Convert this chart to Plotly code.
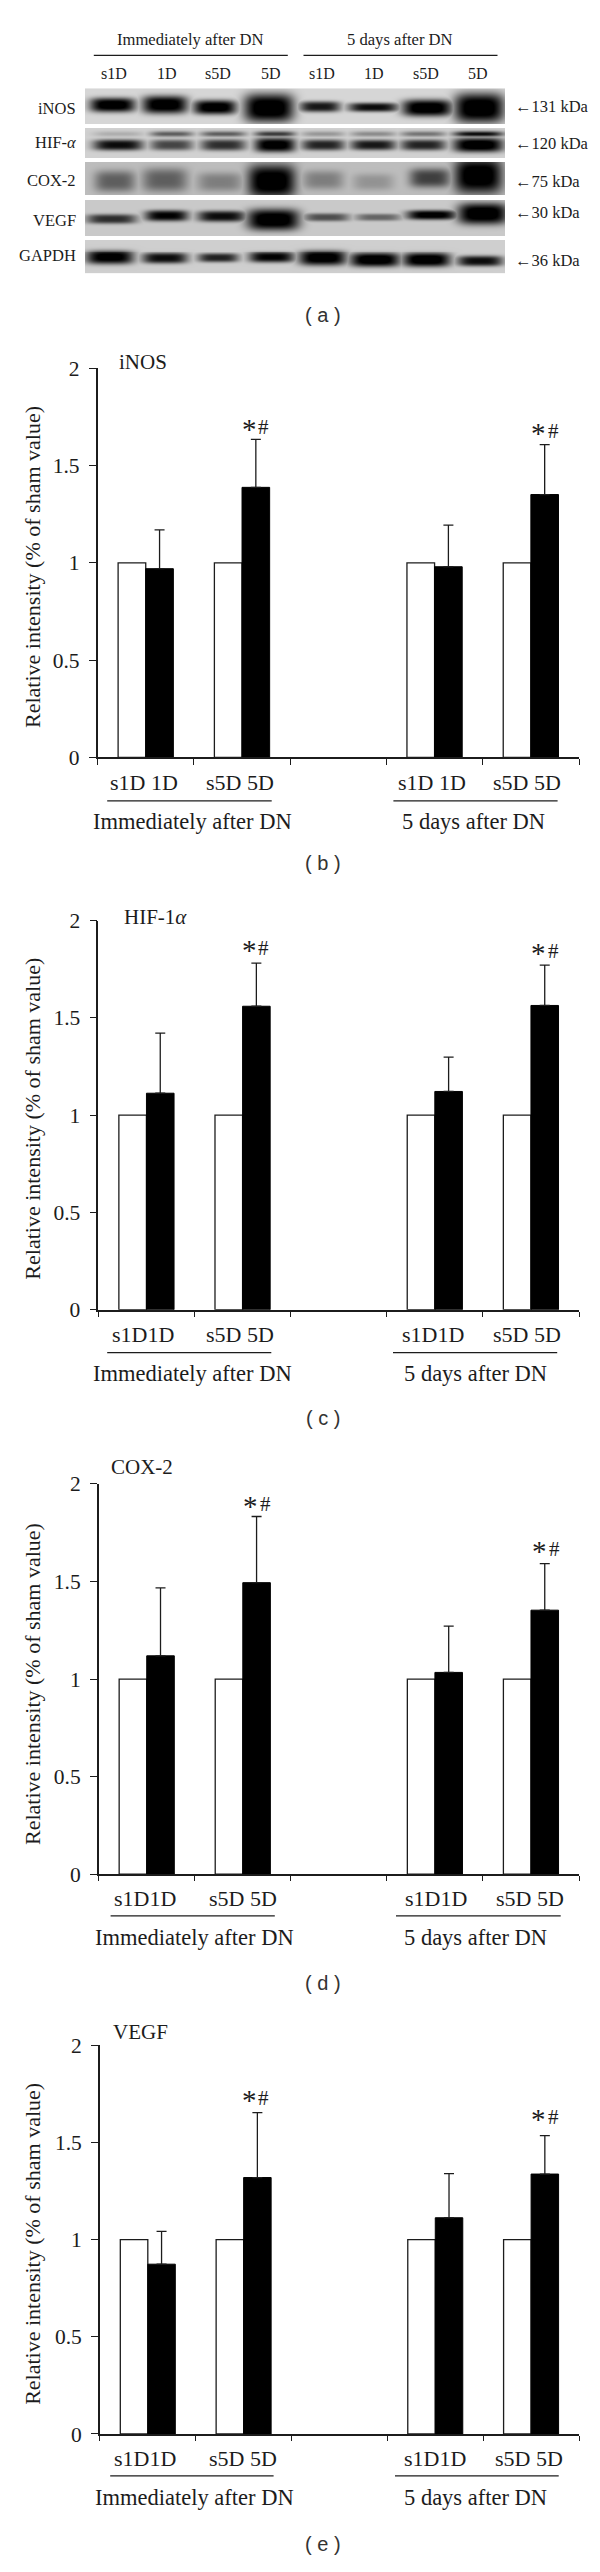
import numpy as np
import plotly.graph_objects as go

W, H = 600, 2572
SERIF = "Liberation Serif"
SANS = "Liberation Sans"
INK = "#1c1c1c"

# ---------- bar data ----------
groups = [0.5, 1.5, 3.5, 4.5]
tick_labels = ["0", "0.5", "1", "1.5", "2"]
tick_values = [0, 0.5, 1, 1.5, 2]
sham = [1, 1, 1, 1]

inos_mean = [0.97, 1.388, 0.98, 1.351]
inos_top = [1.169, 1.635, 1.194, 1.607]
hif_mean = [1.113, 1.56, 1.122, 1.564]
hif_top = [1.422, 1.782, 1.298, 1.771]
cox_mean = [1.119, 1.494, 1.034, 1.353]
cox_top = [1.467, 1.833, 1.271, 1.592]
vegf_mean = [0.874, 1.32, 1.113, 1.338]
vegf_top = [1.043, 1.654, 1.34, 1.536]

# ---------- blot band intensities (0 = none, 1 = saturated) ----------
blot_names = ["iNOS", "HIF-<i>α</i>", "COX-2", "VEGF", "GAPDH"]
blot_sizes = ["←131 kDa", "←120 kDa", "←75 kDa", "←30 kDa", "←36 kDa"]
lanes = ["s1D", "1D", "s5D", "5D", "s1D", "1D", "s5D", "5D"]
inos_band = [.98, .98, .98, 1, .8, .85, 1, 1]
hif_band = [.85, .6, .7, .97, .75, .8, .75, 1]
hif_upper = [.15, .5, .5, .65, .25, .3, .4, .85]
cox_band = [.45, .45, .3, 1, .3, .2, .6, 1]
vegf_band = [.7, .9, .85, 1, .55, .45, .95, 1]
gapdh_band = [.95, .85, .75, .9, .98, 1, 1, .85]

# ---------- blot geometry ----------
rows = [
    dict(y0=78, y1=114, bg=.84, d=inos_band,
         cx=[112.7, 165, 215, 269, 320, 373.3, 427.3, 479.3],
         cy=[95, 94.7, 97.3, 98, 96.7, 97.3, 98, 98],
         hw=[20, 20, 19, 22, 18, 22, 22, 22],
         hh=[6, 7.5, 6, 12, 4.5, 3.8, 7, 12.5]),
    dict(y0=118, y1=148, bg=.82, d=hif_band,
         cx=[118.3, 171.7, 223.3, 275, 323.3, 373.3, 423.3, 478.3],
         cy=[135] * 8,
         hw=[22, 19, 20, 18, 19, 20, 20, 22],
         hh=[4.6, 4.6, 4.8, 6, 4.6, 4.4, 4.6, 6],
         up=hif_upper),
    dict(y0=152.7, y1=186, bg=.74, d=cox_band,
         cx=[115, 165, 220, 271.7, 323.3, 373.3, 430, 478.3],
         cy=[172.3, 171, 173, 172.3, 171, 173, 169, 166.7],
         hw=[18, 20, 20, 21, 18, 18, 18, 21],
         hh=[9, 10, 8, 14, 8, 7, 8, 15]),
    dict(y0=190.7, y1=227, bg=.79, d=vegf_band,
         cx=[111.7, 166.7, 221.7, 273.3, 326.7, 378.3, 431.7, 482.7],
         cy=[210, 206.7, 207.3, 210.7, 208.3, 208.3, 206, 204.7],
         hw=[22, 19, 21, 23, 20, 20, 22, 22],
         hh=[4, 4.6, 4.6, 9, 3.4, 3, 4, 9]),
    dict(y0=231, y1=265, bg=.81, d=gapdh_band,
         cx=[110, 165, 218.3, 271.7, 322.7, 375, 426.7, 480],
         cy=[249, 250, 249.7, 249, 249.7, 251.7, 251.7, 253],
         hw=[21, 20, 18, 20, 21, 22, 21, 20],
         hh=[6, 4.6, 3.8, 4.6, 6.5, 6, 6, 4.4]),
]
BX0, BX1, BY0, BY1 = 85, 505, 78, 265
xs = np.arange(BX0, BX1)
ys = np.arange(BY0, BY1)
Xg, Yg = np.meshgrid(xs + .5, ys + .5)
z = np.ones_like(Xg)
for r in rows:
    mask = (Yg >= r["y0"]) & (Yg < r["y1"])
    dark = np.zeros_like(Xg)
    for i in range(8):
        u = (Xg - r["cx"][i]) / r["hw"][i]
        v = (Yg - r["cy"][i]) / r["hh"][i]
        dark = np.maximum(dark, r["d"][i] * np.exp(-.6 * (u**4 + np.abs(v)**3)))
        if "up" in r:
            v2 = (Yg - 124) / 2.2
            dark = np.maximum(dark, r["up"][i] * np.exp(-.6 * (u**4 + v2**2)))
    z[mask] = (r["bg"] * (1 - np.clip(dark * 1.12, 0, 1)))[mask]


def fx(p):
    return p / W


def fy(p):
    return 1 - p / H


fig = go.Figure()
annotations = []
shapes = []


def text(x, y, s, size=21.5, font=SERIF, anchor="center", angle=0, color=INK):
    annotations.append(dict(
        x=fx(x), y=fy(y), xref="paper", yref="paper", text=s, showarrow=False,
        xanchor=anchor, yanchor="middle", textangle=angle,
        font=dict(family=font, size=size, color=color)))


def hline(x0, x1, y, width=1.3):
    shapes.append(dict(type="line", xref="paper", yref="paper",
                       x0=fx(x0), x1=fx(x1), y0=fy(y), y1=fy(y),
                       line=dict(color=INK, width=width)))


# ---------- panel a ----------
fig.add_trace(go.Heatmap(
    z=z, x0=BX0 + .5, dx=1, y0=BY0 + .5, dy=1, xaxis="x", yaxis="y",
    zmin=0, zmax=1, colorscale=[[0, "#000000"], [1, "#ffffff"]],
    showscale=False, hoverinfo="skip"))
layout_axes = dict(
    xaxis=dict(domain=[fx(BX0), fx(BX1)], range=[BX0, BX1], visible=False, anchor="y"),
    yaxis=dict(domain=[fy(BY1), fy(BY0)], range=[BY1, BY0], visible=False, anchor="x"),
)
text(190.6, 29, "Immediately after DN", 16.6)
text(400.3, 29, "5 days after DN", 16.6)
hline(93.8, 287.8, 44.7)
hline(303.5, 497.5, 44.7)
for lx, lab in zip([114, 166.5, 218, 270.6, 322.2, 374.3, 426, 478.4], lanes):
    text(lx, 62.7, lab, 16)
for ly, name in zip([98, 132.7, 170.7, 211.7, 247.3], blot_names):
    text(78, ly, name, 16.5, anchor="right")
for ly, size in zip([96.7, 134, 172, 203, 252], blot_sizes):
    text(512.5, ly, size, 16.5, anchor="left")
text(322.6, 306.7, "( a )", 20, SANS, color="#333333")

# ---------- bar panels ----------
panels = [
    dict(title="iNOS", mean=inos_mean, top=inos_top, y2=360.6, y0=753.5, left=97.6,
         tx=143, ty=354.4, letter="( b )", ly=860, ytitle=561.7,
         star=[(256.5, 419.9), (546.2, 424.3)], lab_y=778.7, line_y=797.3, name_y=818.3,
         labs=[(143.5, "s1D 1D"), (240.3, "s5D 5D"), (431.7, "s1D 1D"), (527, "s5D 5D")],
         lines=[(107.2, 271.7), (393.4, 557.6)], names=[192, 473.4]),
    dict(title="HIF-1<i>α</i>", mean=hif_mean, top=hif_top, y2=918.2, y0=1311, left=98.4,
         tx=155.6, ty=914.3, letter="( c )", ly=1420, ytitle=1118.6,
         star=[(256.5, 945.7), (546.2, 949.3)], lab_y=1335.7, line_y=1354.3, name_y=1375.4,
         labs=[(143.1, "s1D1D"), (240.3, "s5D 5D"), (432.8, "s1D1D"), (527.2, "s5D 5D")],
         lines=[(107.2, 271.3), (393, 557.2)], names=[192, 475.3]),
    dict(title="COX-2", mean=cox_mean, top=cox_top, y2=1486.8, y0=1880.7, left=98.7,
         tx=141.8, ty=1470, letter="( d )", ly=1991, ytitle=1689.3,
         star=[(258, 1507.5), (547, 1552.9)], lab_y=1905, line_y=1922.9, name_y=1944.6,
         labs=[(145.4, "s1D1D"), (243.4, "s5D 5D"), (435.9, "s1D1D"), (529.7, "s5D 5D")],
         lines=[(110.6, 274.8), (396, 560.7)], names=[194.8, 475.7]),
    dict(title="VEGF", mean=vegf_mean, top=vegf_top, y2=2053.6, y0=2445.8, left=99.9,
         tx=140, ty=2039.6, letter="( e )", ly=2556.5, ytitle=2254.4,
         star=[(256.7, 2106.5), (546, 2126)], lab_y=2470.7, line_y=2488, name_y=2509.6,
         labs=[(145, "s1D1D"), (243, "s5D 5D"), (434.8, "s1D1D"), (528.5, "s5D 5D")],
         lines=[(110.2, 273.6), (395, 558.7)], names=[194.4, 475]),
]
RIGHT = 579
BW = 0.287
for i, p in enumerate(panels):
    n = str(i + 2)
    xa, ya = "x" + n, "y" + n
    fig.add_trace(go.Bar(
        x=groups, y=sham, width=BW, offset=-BW, xaxis=xa, yaxis=ya,
        marker=dict(color="white", line=dict(color=INK, width=1.3)), showlegend=False))
    fig.add_trace(go.Bar(
        x=groups, y=p["mean"], width=BW, offset=0, xaxis=xa, yaxis=ya,
        marker=dict(color="black", line=dict(color="black", width=1)), showlegend=False,
        error_y=dict(type="data", symmetric=False,
                     array=[t - m for t, m in zip(p["top"], p["mean"])],
                     arrayminus=[0] * 4, color=INK, thickness=1.3, width=5)))
    layout_axes["xaxis" + n] = dict(
        domain=[fx(p["left"]), fx(RIGHT)], range=[0, 5], anchor=ya,
        tickvals=[0, 1, 2, 3, 4, 5], ticktext=[""] * 6, ticks="outside", ticklen=5.5,
        tickwidth=1.3, tickcolor=INK, showline=True, linecolor=INK, linewidth=1.5,
        showgrid=False, zeroline=False)
    layout_axes["yaxis" + n] = dict(
        domain=[fy(p["y0"]), fy(p["y2"])], range=[0, 2], anchor=xa,
        tickvals=tick_values, ticktext=tick_labels, ticks="outside", ticklen=7,
        tickwidth=1.3, tickcolor=INK, showline=True, linecolor=INK, linewidth=1.5,
        showgrid=False, zeroline=False, ticklabelstandoff=5,
        tickfont=dict(family=SERIF, size=21.5, color=INK))
    text(p["tx"], p["ty"], p["title"], 21)
    text(32.5, p["ytitle"], "Relative intensity (% of sham value)", 22, angle=-90)
    for sx, sy in p["star"]:
        text(sx - 7.3, sy + 2, "*", 29)
        text(sx + 7.2, sy, "#", 21)
    for lx, lab in p["labs"]:
        text(lx, p["lab_y"], lab, 22)
    for (a, b) in p["lines"]:
        hline(a, b, p["line_y"])
    text(p["names"][0], p["name_y"], "Immediately after DN", 22.5)
    text(p["names"][1], p["name_y"], "5 days after DN", 22.5)
    text(322.6, p["ly"], p["letter"], 20, SANS, color="#333333")

fig.update_layout(
    width=W, height=H, margin=dict(l=0, r=0, t=0, b=0), autosize=False,
    paper_bgcolor="white", plot_bgcolor="white", showlegend=False,
    barmode="group", annotations=annotations, shapes=shapes, **layout_axes)

fig.write_html("out.html", config={"displayModeBar": False},
               post_script="document.body.style.margin='0';document.body.style.overflow='hidden';")
